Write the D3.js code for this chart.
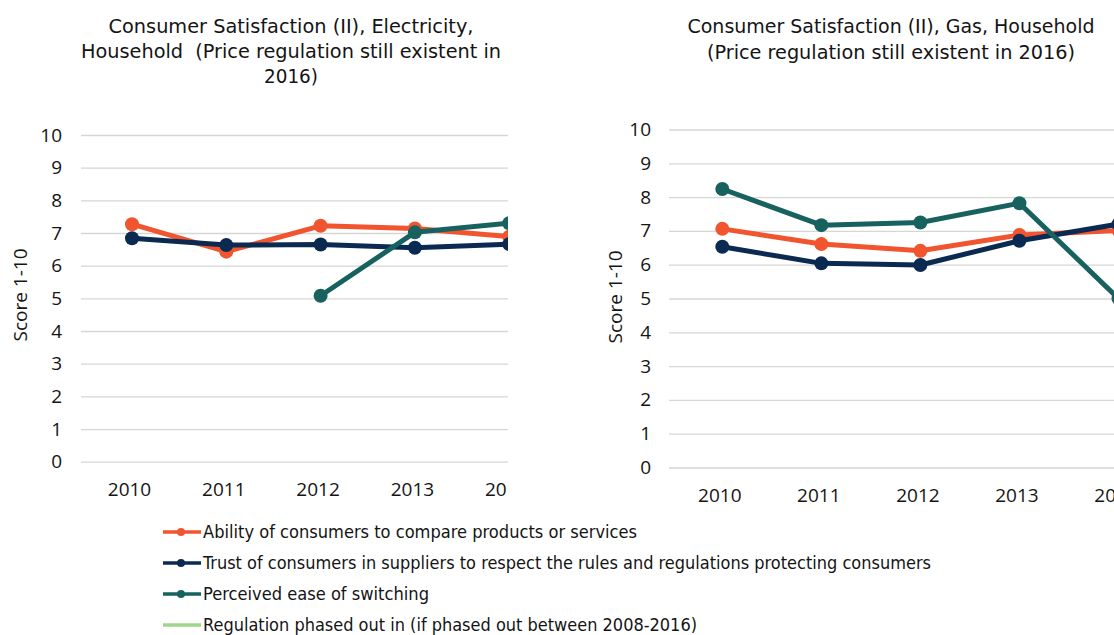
<!DOCTYPE html>
<html>
<head>
<meta charset="utf-8">
<script src="https://cdn.jsdelivr.net/npm/d3@7"></script>
<style>
  html, body { margin: 0; padding: 0; background: #fff; }
  svg { display: block; }
  text { white-space: pre; }
</style>
</head>
<body>
<svg id="chart" width="1114" height="635"></svg>
<script>
// Survey years shown on the horizontal axis
const years = ["2010", "2011", "2012", "2013", "2014"];
const yTicks = [0, 1, 2, 3, 4, 5, 6, 7, 8, 9, 10];

// Electricity, household (score 1-10)
const elecAbility   = [7.27, 6.43, 7.22, 7.14, 6.89];
const elecTrust     = [6.84, 6.63, 6.65, 6.55, 6.66];
const elecSwitching = [null, null, 5.08, 7.02, 7.30];

// Gas, household (score 1-10)
const gasAbility   = [7.06, 6.61, 6.41, 6.88, 7.01];
const gasTrust     = [6.53, 6.04, 5.99, 6.71, 7.20];
const gasSwitching = [8.24, 7.17, 7.25, 7.82, 5.00];

const seriesNames = [
  "Ability of consumers to compare products or services",
  "Trust of consumers in suppliers to respect the rules and regulations protecting consumers",
  "Perceived ease of switching",
  "Regulation phased out in (if phased out between 2008-2016)"
];
const seriesColors = ["#f0552f", "#0b2a52", "#17625f", "#9fd68c"];

const elecTitle = ["Consumer Satisfaction (II), Electricity,",
                   "Household  (Price regulation still existent in",
                   "2016)"];
const gasTitle = ["Consumer Satisfaction (II), Gas, Household",
                  "(Price regulation still existent in 2016)"];
const axisTitle = "Score 1-10";

const svg = d3.select("#chart");
const tickFont = "'Open Sans', 'DejaVu Sans', sans-serif";
const titleFont = "'DejaVu Sans Condensed', 'DejaVu Sans', sans-serif";
const textColor = "#141414";

const panels = [
  {
    id: "elec", series: [elecAbility, elecTrust, elecSwitching],
    title: elecTitle, titleX: 291, titleY: [33, 58, 83], titleW: [365, 420, 54],
    gridX0: 81, clipX1: 508, xRange: [132, 509.2], yRange: [461.7, 135],
    tickPad: 19, axisTitleX: 20, axisTitleY: 295
  },
  {
    id: "gas", series: [gasAbility, gasTrust, gasSwitching],
    title: gasTitle, titleX: 891, titleY: [33, 59], titleW: [407, 368],
    gridX0: 669, clipX1: 1114, xRange: [722.3, 1118.5], yRange: [467.5, 129.5],
    tickPad: 18, axisTitleX: 615, axisTitleY: 297
  }
];

panels.forEach(p => {
  // titles
  const tg = svg.append("g").attr("class", "title");
  p.title.forEach((line, i) => {
    tg.append("text")
      .attr("x", p.titleX).attr("y", p.titleY[i])
      .attr("text-anchor", "middle")
      .attr("textLength", p.titleW[i])
      .attr("lengthAdjust", "spacingAndGlyphs")
      .style("font-family", titleFont)
      .style("font-size", "19px")
      .style("fill", textColor)
      .text(line);
  });

  svg.append("clipPath").attr("id", "clip-" + p.id)
    .append("rect").attr("x", 0).attr("y", 0)
    .attr("width", p.clipX1).attr("height", 635);

  const g = svg.append("g").attr("clip-path", `url(#clip-${p.id})`);

  const x = d3.scalePoint().domain(years).range(p.xRange);
  const y = d3.scaleLinear().domain([0, 10]).range(p.yRange);

  // value axis with gridlines
  const yAxis = g.append("g")
    .attr("transform", `translate(${p.gridX0},0)`)
    .call(d3.axisLeft(y).tickValues(yTicks).tickFormat(d3.format("d"))
      .tickSizeInner(-(p.clipX1 + 80 - p.gridX0)).tickSizeOuter(0).tickPadding(p.tickPad));
  yAxis.select(".domain").remove();
  yAxis.selectAll(".tick line").attr("stroke", "#d6d6d6").attr("stroke-width", 1.3);
  yAxis.selectAll(".tick text")
    .style("font-family", tickFont).style("font-size", "19px").style("fill", textColor);

  // category axis
  const xAxis = g.append("g")
    .attr("transform", `translate(-3,${y(0)})`)
    .call(d3.axisBottom(x).tickSize(0).tickPadding(21));
  xAxis.select(".domain").remove();
  xAxis.selectAll(".tick text")
    .style("font-family", tickFont).style("font-size", "19px").style("fill", textColor);

  // axis title
  g.append("text")
    .attr("transform", `translate(${p.axisTitleX},${p.axisTitleY}) rotate(-90)`)
    .attr("text-anchor", "middle").attr("dy", "0.35em")
    .style("font-family", tickFont).style("font-size", "19px").style("fill", textColor)
    .text(axisTitle);

  // series lines and markers
  const line = d3.line()
    .defined(d => d.v != null)
    .x(d => x(d.year)).y(d => y(d.v));

  p.series.forEach((vals, si) => {
    const pts = years.map((yr, i) => ({ year: yr, v: vals[i] }));
    const sg = g.append("g");
    sg.append("path").datum(pts)
      .attr("fill", "none").attr("stroke", seriesColors[si])
      .attr("stroke-width", 5).attr("stroke-linejoin", "round")
      .attr("d", line);
    sg.selectAll("circle").data(pts.filter(d => d.v != null)).join("circle")
      .attr("cx", d => x(d.year)).attr("cy", d => y(d.v))
      .attr("r", 7).attr("fill", seriesColors[si]);
  });
});

// legend
const legendRows = [538, 569, 600, 631];
const legendW = [434, 728, 226, 494];
const lg = svg.append("g");
seriesNames.forEach((name, i) => {
  const ly = legendRows[i] - 6;
  lg.append("line")
    .attr("x1", 163).attr("x2", 201).attr("y1", ly).attr("y2", ly)
    .attr("stroke", seriesColors[i]).attr("stroke-width", 3.5);
  if (i < 3) {
    lg.append("circle").attr("cx", 181).attr("cy", ly).attr("r", 4)
      .attr("fill", seriesColors[i]);
  }
  lg.append("text")
    .attr("x", 203).attr("y", legendRows[i])
    .attr("textLength", legendW[i]).attr("lengthAdjust", "spacingAndGlyphs")
    .style("font-family", titleFont).style("font-size", "17px").style("fill", textColor)
    .text(name);
});
</script>
</body>
</html>
